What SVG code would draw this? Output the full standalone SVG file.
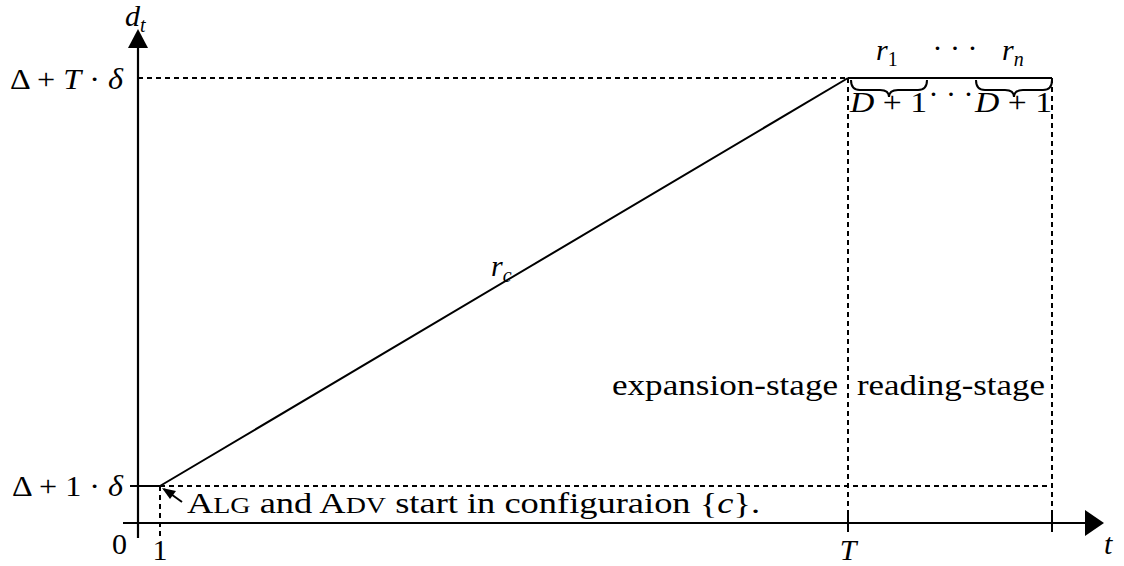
<svg xmlns="http://www.w3.org/2000/svg" width="1124" height="566" viewBox="0 0 1124 566">
<style>
.ax{stroke:#000;stroke-width:2.2;fill:none}
.sol{stroke:#000;stroke-width:2;fill:none}
.dash{stroke:#000;stroke-width:2;fill:none;stroke-dasharray:5,4}
text{font-family:"Liberation Serif","DejaVu Serif",serif;font-size:30px;fill:#000}
.it{font-style:italic}
.sub{font-size:20px;font-style:italic}
.subr{font-size:20px;font-style:normal}
</style>
<g id="connectors">
<line class="ax" x1="123" y1="523" x2="1085" y2="523"/>
<path d="M1085,510 L1104,523 L1085,536 z" fill="#000"/>
<line class="ax" x1="138" y1="538" x2="138" y2="47"/>
<path d="M128,48 L138,29 L148,48 z" fill="#000"/>
<line class="dash" x1="138" y1="78" x2="848" y2="78"/>
<line class="sol" x1="848" y1="78" x2="1052" y2="78"/>
<line class="dash" x1="160" y1="486" x2="1052" y2="486"/>
<line class="sol" x1="130" y1="486" x2="160" y2="486"/>
<line class="sol" x1="160" y1="486" x2="848" y2="78"/>
<line class="dash" x1="160" y1="486" x2="160" y2="538"/>
<line class="dash" x1="848" y1="78" x2="848" y2="532"/>
<line class="dash" x1="1052" y1="78" x2="1052" y2="532"/>
<line class="sol" x1="848" y1="515" x2="848" y2="531"/>
<line class="sol" x1="1052" y1="515" x2="1052" y2="531"/>
<line class="sol" x1="182" y1="502" x2="164" y2="489"/>
<path d="M162,488 L176,491 L170,499 z" fill="#000"/>
<path class="sol" d="M851,80 Q851,90 860,90 L880,90 Q889,90 889,97 Q889,90 898,90 L918,90 Q927,90 927,80"/>
<path class="sol" d="M976,80 Q976,90 985,90 L1005,90 Q1014,90 1014,97 Q1014,90 1023,90 L1043,90 Q1052,90 1052,80"/>
</g>
<g id="labels">
<text x="125" y="26" class="it">d<tspan class="sub" dy="6">t</tspan></text>
<text x="123" y="89" text-anchor="end" textLength="113" lengthAdjust="spacingAndGlyphs">Δ + <tspan class="it">T</tspan> · <tspan class="it">δ</tspan></text>
<text x="123" y="496" text-anchor="end" textLength="111" lengthAdjust="spacingAndGlyphs">Δ + 1 · <tspan class="it">δ</tspan></text>
<text x="112" y="554">0</text>
<text x="160" y="560" text-anchor="middle">1</text>
<text x="848" y="560" text-anchor="middle" class="it">T</text>
<text x="1104" y="554" class="it">t</text>
<text x="491" y="276" class="it">r<tspan class="sub" dy="6">c</tspan></text>
<text x="876" y="60" class="it">r<tspan class="subr" dy="6">1</tspan></text>
<text x="955" y="58" text-anchor="middle">· · ·</text>
<text x="1002" y="60" class="it">r<tspan class="sub" dy="6">n</tspan></text>
<text x="850" y="112" textLength="77" lengthAdjust="spacingAndGlyphs"><tspan class="it">D</tspan> + 1</text>
<text x="951" y="104" text-anchor="middle">· · ·</text>
<text x="975" y="112" textLength="77" lengthAdjust="spacingAndGlyphs"><tspan class="it">D</tspan> + 1</text>
<text x="612" y="395" textLength="226" lengthAdjust="spacingAndGlyphs">expansion-stage</text>
<text x="857" y="395" textLength="188" lengthAdjust="spacingAndGlyphs">reading-stage</text>
<text x="187" y="513" textLength="573" lengthAdjust="spacingAndGlyphs">A<tspan font-size="23">LG</tspan> and A<tspan font-size="23">DV</tspan> start in configuraion {<tspan class="it">c</tspan>}.</text>
</g>
</svg>
